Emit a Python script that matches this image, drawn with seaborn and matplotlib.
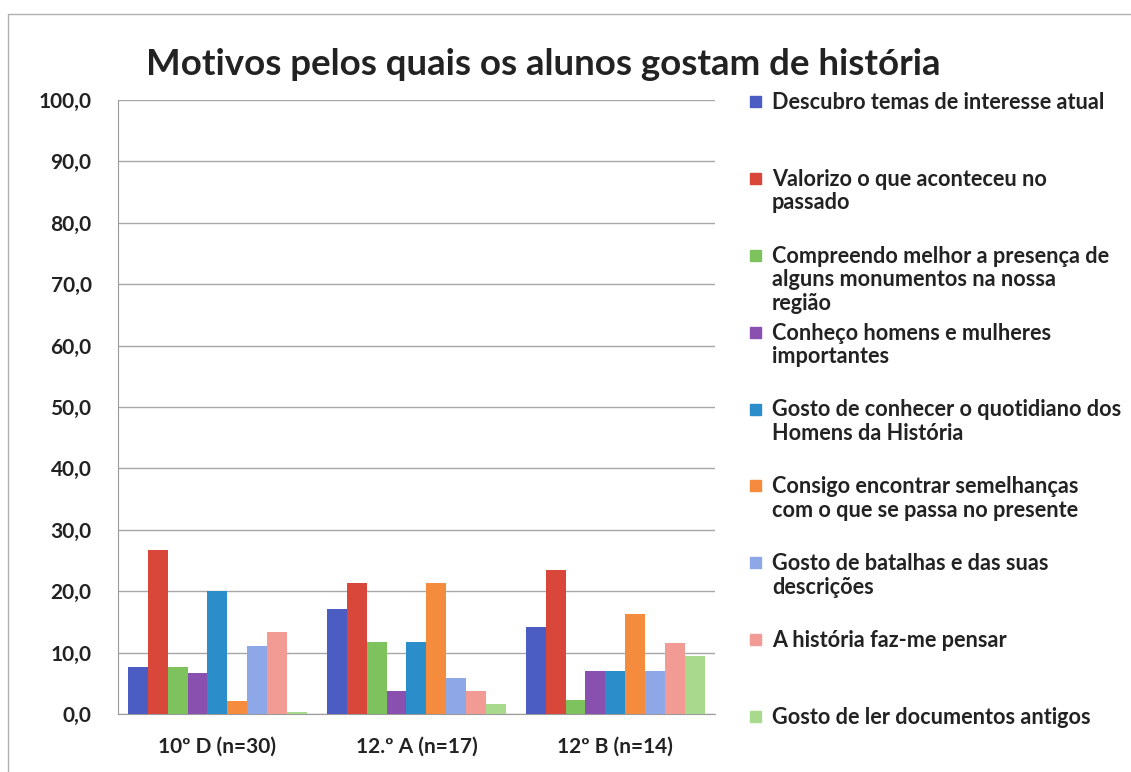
import pandas as pd
import matplotlib.pyplot as plt
import seaborn as sns
from matplotlib.patches import Rectangle

# ─── Dados ─────────────────────────────────────────────────────────────────
turmas = ["10º D (n=30)", "12.º A (n=17)", "12º B (n=14)"]

motivos = [
    "Descubro temas de interesse atual",
    "Valorizo o que aconteceu no\npassado",
    "Compreendo melhor a presença de\nalguns monumentos na nossa\nregião",
    "Conheço homens e mulheres\nimportantes",
    "Gosto de conhecer o quotidiano dos\nHomens da História",
    "Consigo encontrar semelhanças\ncom o que se passa no presente",
    "Gosto de batalhas e das suas\ndescrições",
    "A história faz-me pensar",
    "Gosto de ler documentos antigos",
]

valores_10D = [7.7, 26.7, 7.7, 6.7, 20.0, 2.2, 11.0, 13.3, 0.3]
valores_12A = [17.1, 21.3, 11.7, 3.8, 11.7, 21.3, 5.8, 3.8, 1.7]
valores_12B = [14.2, 23.5, 2.3, 7.0, 7.0, 16.3, 7.0, 11.5, 9.5]

cores = ["#4B5CC2", "#D8473A", "#7DC25C", "#8A50B0", "#2B8ECB",
         "#F58B3D", "#8EA7E6", "#F29B95", "#A9D98C"]

rows = []
for turma, vals in zip(turmas, [valores_10D, valores_12A, valores_12B]):
    for motivo, v in zip(motivos, vals):
        rows.append({"turma": turma, "motivo": motivo, "valor": v})
df = pd.DataFrame(rows)

# ─── Gráfico ───────────────────────────────────────────────────────────────
sns.set_style("white")
plt.rcParams["font.family"] = ["Lato", "DejaVu Sans"]

fig = plt.figure(figsize=(11.31, 7.72), dpi=100)
ax = fig.add_axes([0.1043, 0.0751, 0.5277, 0.7954])

sns.barplot(data=df, x="turma", y="valor", hue="motivo", order=turmas,
            hue_order=motivos, palette=cores, saturation=1, width=0.9, ax=ax,
            edgecolor="none", legend=False, zorder=3)

ax.set_ylim(0, 100)
ax.set_yticks(range(0, 101, 10))
ax.set_yticklabels([f"{t},0" for t in range(0, 101, 10)], fontsize=15,
                   fontweight="bold", color="#222222")
ax.tick_params(axis="x", labelsize=15, pad=16, length=0)
ax.tick_params(axis="y", pad=19, length=0)
for lbl in ax.get_xticklabels():
    lbl.set_fontweight("bold")
    lbl.set_color("#222222")
ax.set_xlabel("")
ax.set_ylabel("")
ax.yaxis.grid(True, color="#A8A8A8", linewidth=1, zorder=0)
for s in ["top", "right"]:
    ax.spines[s].set_visible(False)
ax.spines["left"].set_color("#9A9A9A")
ax.spines["bottom"].set_color("#9A9A9A")

fig.text(0.480, 0.916, "Motivos pelos quais os alunos gostam de história",
         ha="center", va="center", fontsize=26.4, fontweight="bold",
         color="#222222")

# legenda manual, entradas igualmente espaçadas
y0, y1 = 1 - 102 / 772, 1 - 717 / 772
n = len(motivos)
for i, (motivo, cor) in enumerate(zip(motivos, cores)):
    y = y0 + (y1 - y0) * i / (n - 1)
    fig.patches.append(Rectangle((750 / 1131, y - 5 / 772), 11 / 1131, 11 / 772,
                                 transform=fig.transFigure, color=cor))
    fig.text(772 / 1131, y + 10 / 772, motivo, ha="left", va="top",
             fontsize=15.6, fontweight="bold", linespacing=1.15,
             color="#222222")

# moldura
fig.patches.append(Rectangle((8 / 1131, -0.1), 1.2, 1 - 14 / 772 + 0.1,
                             transform=fig.transFigure, fill=False,
                             edgecolor="#B0B0B0", linewidth=1))

fig.savefig("out.png", dpi=100)
